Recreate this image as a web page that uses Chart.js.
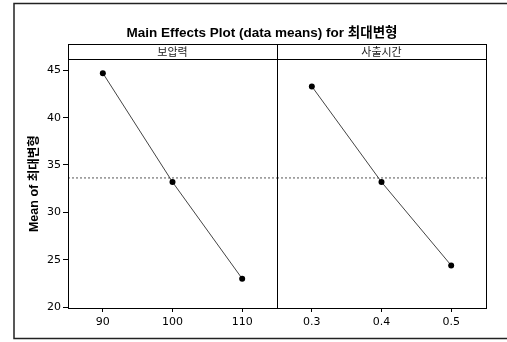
<!DOCTYPE html>
<html>
<head>
<meta charset="utf-8">
<script src="https://cdn.jsdelivr.net/npm/chart.js@4.4.1/dist/chart.umd.min.js"></script>
<style>
  html, body { margin: 0; padding: 0; background: #fff; }
  #wrap { width: 507px; height: 342px; }
</style>
</head>
<body>
<div id="wrap"><canvas id="c" width="507" height="342"></canvas></div>
<script>
// Factor levels and the mean response at each level
const pressureLevels = [90, 100, 110];
const pressureMeans = [44.7, 33.2, 23.0];
const injectionTimes = [0.3, 0.4, 0.5];
const injectionMeans = [43.3, 33.2, 24.4];
const yTicks = [20, 25, 30, 35, 40, 45];
const factorNames = ['보압력', '사출시간'];
const chartTitle = 'Main Effects Plot (data means) for 최대변형';
const yTitle = 'Mean of 최대변형';

const allMeans = pressureMeans.concat(injectionMeans);
const grandMean = allMeans.reduce((a, b) => a + b, 0) / allMeans.length;

// half a level step of padding on each side of a panel
function panelRange(levels) {
  const step = levels[1] - levels[0];
  return { min: levels[0] - step / 2, max: levels[levels.length - 1] + step / 2 };
}
const r1 = panelRange(pressureLevels);
const r2 = panelRange(injectionTimes);

const FONT = "'DejaVu Sans', 'Noto Sans CJK KR', sans-serif";
const TITLE_FONT = "'Liberation Sans', 'Noto Sans CJK KR', sans-serif";
const KFONT = "'Noto Sans CJK KR', 'DejaVu Sans', sans-serif";

function xScale(levels, range) {
  return {
    type: 'linear',
    position: 'bottom',
    stack: 'panels',
    stackWeight: 1,
    min: range.min,
    max: range.max,
    afterBuildTicks: s => { s.ticks = levels.map(v => ({ value: v })); },
    afterFit: s => { s.height = 30; },
    ticks: {
      color: '#000',
      font: { family: FONT, size: 11 },
      padding: 4,
      callback: v => String(v)
    },
    grid: { drawOnChartArea: false, drawTicks: true, tickLength: 4, color: '#000' },
    border: { color: '#000', width: 1 }
  };
}

const lineStyle = {
  showLine: true,
  borderColor: '#444',
  borderWidth: 1,
  pointRadius: 3,
  pointBackgroundColor: '#000',
  pointBorderColor: '#000',
  pointBorderWidth: 0
};
const meanStyle = {
  showLine: true,
  borderColor: '#555',
  borderWidth: 1,
  borderDash: [2, 2],
  pointRadius: 0
};

// Outer frame, panel header strip and panel divider
const panelFrame = {
  id: 'panelFrame',
  beforeDraw(chart) {
    const ctx = chart.ctx;
    ctx.save();
    ctx.fillStyle = '#fff';
    ctx.fillRect(0, 0, chart.width, chart.height);
    ctx.strokeStyle = '#222';
    ctx.lineWidth = 1.5;
    ctx.strokeRect(14, 3.5, 520, 335);
    ctx.restore();
  },
  afterDraw(chart) {
    const ctx = chart.ctx;
    const a = chart.chartArea;
    const x1 = chart.scales.x1;
    const headerTop = 44;
    ctx.save();
    ctx.strokeStyle = '#000';
    ctx.lineWidth = 1;
    ctx.strokeRect(a.left + 0.5, headerTop + 0.5, a.right - a.left, a.bottom - headerTop);
    ctx.beginPath();
    ctx.moveTo(a.left, Math.round(a.top) + 0.5);
    ctx.lineTo(a.right, Math.round(a.top) + 0.5);
    ctx.moveTo(Math.round(x1.right) + 0.5, headerTop);
    ctx.lineTo(Math.round(x1.right) + 0.5, a.bottom);
    ctx.stroke();
    ctx.fillStyle = '#222';
    ctx.font = '11px ' + KFONT;
    ctx.textAlign = 'center';
    ctx.textBaseline = 'middle';
    const mid = (headerTop + a.top) / 2;
    ['x1', 'x2'].forEach((id, i) => {
      const s = chart.scales[id];
      ctx.fillText(factorNames[i], (s.left + s.right) / 2, mid);
    });
    ctx.restore();
  }
};

new Chart(document.getElementById('c'), {
  type: 'scatter',
  data: {
    datasets: [
      Object.assign({ xAxisID: 'x1', data: pressureLevels.map((x, i) => ({ x, y: pressureMeans[i] })) }, lineStyle),
      Object.assign({ xAxisID: 'x2', data: injectionTimes.map((x, i) => ({ x, y: injectionMeans[i] })) }, lineStyle),
      Object.assign({ xAxisID: 'x1', data: [{ x: r1.min, y: grandMean }, { x: r1.max, y: grandMean }] }, meanStyle),
      Object.assign({ xAxisID: 'x2', data: [{ x: r2.min, y: grandMean }, { x: r2.max, y: grandMean }] }, meanStyle)
    ]
  },
  options: {
    responsive: false,
    animation: false,
    devicePixelRatio: 1,
    layout: { padding: { left: 38, right: 21, top: 0, bottom: 4 } },
    plugins: {
      legend: { display: false },
      tooltip: { enabled: false },
      title: {
        display: true,
        text: chartTitle,
        color: '#000',
        font: { family: TITLE_FONT, size: 13.5, weight: 'bold' },
        padding: { top: 25, bottom: 18.2 }
      }
    },
    scales: {
      x1: xScale(pressureLevels, r1),
      x2: xScale(injectionTimes, r2),
      y: {
        type: 'linear',
        position: 'left',
        min: 19.9,
        max: 46.15,
        afterBuildTicks: s => { s.ticks = yTicks.map(v => ({ value: v })); },
        afterFit: s => { s.width = 30; },
        ticks: { color: '#000', font: { family: FONT, size: 11 }, padding: 2 },
        grid: { drawOnChartArea: false, drawTicks: true, tickLength: 5, color: '#000' },
        border: { color: '#000', width: 1 },
        title: {
          display: true,
          text: yTitle,
          color: '#000',
          font: { family: TITLE_FONT, size: 12.5, weight: 'bold' },
          padding: { top: -11, bottom: 0 }
        }
      }
    }
  },
  plugins: [panelFrame]
});
</script>
</body>
</html>
